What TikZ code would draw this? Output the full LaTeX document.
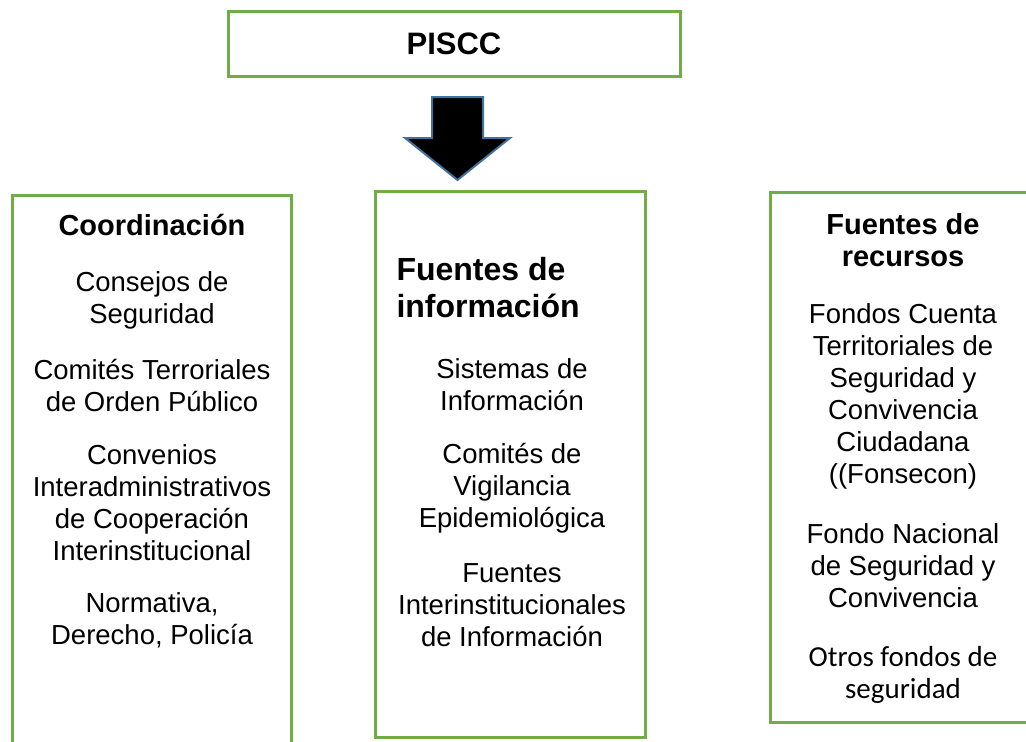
\documentclass[tikz,border=0pt]{standalone}
\usepackage{fontspec}
\setmainfont{Liberation Sans}
\newfontfamily\calibri{Carlito}
\usetikzlibrary{positioning}
\definecolor{boxgreen}{RGB}{112,173,71}
\definecolor{arrowblue}{RGB}{65,113,156}
\tikzset{
	panel/.style = {draw=boxgreen, line width=3pt, inner sep=0pt},
	head/.style = {font=\bfseries\fontsize{29}{32}\selectfont, align=center},
	bighead/.style = {font=\bfseries\fontsize{32}{37}\selectfont, align=left},
	item/.style = {font=\fontsize{27.5}{32}\selectfont, align=center}}

\begin{document}
\begin{tikzpicture}[x=1pt, y=-1pt]
\useasboundingbox (0,0) rectangle (1026,742);

% NODES
% top
\node (piscc) [panel, head, font=\bfseries\fontsize{31}{34}\selectfont,
	minimum width=452pt, minimum height=65pt] at (454,43.5) {PISCC};
% boxes
\node (left) [panel, minimum width=279pt, minimum height=565pt] at (151.5,477.5) {};
\node (mid) [panel, minimum width=270pt, minimum height=546pt] at (510,464) {};
\node (right) [panel, minimum width=270pt, minimum height=530pt] at (905,457) {};
% coordinacion
\node (coord) [head] at (152,225) {Coordinación};
\node (consejos) [item] at (152,300) {Consejos de\\Seguridad};
\node (comites) [item] at (152,386) {Comités Terroriales\\de Orden Público};
\node (convenios) [item] at (152,503) {Convenios\\Interadministrativos\\de Cooperación\\Interinstitucional};
\node (normativa) [item] at (152,620) {Normativa,\\Derecho, Policía};
% informacion
\node (finfo) [bighead, anchor=west] at (393,288) {Fuentes de\\información};
\node (sistemas) [item] at (512,385) {Sistemas de\\Información};
\node (vigilancia) [item] at (512,488) {Comités de\\Vigilancia\\Epidemiológica};
\node (fuentesint) [item] at (512,605) {Fuentes\\Interinstitucionales\\de Información};
% recursos
\node (frec) [head] at (903,240) {Fuentes de\\recursos};
\node (fondos) [item] at (903,396) {Fondos Cuenta\\Territoriales de\\Seguridad y\\Convivencia\\Ciudadana\\((Fonsecon)};
\node (nacional) [item] at (903,566) {Fondo Nacional\\de Seguridad y\\Convivencia};
\node (otros) [item, font=\calibri\fontsize{29}{32}\selectfont] at (903,675) {Otros fondos de\\seguridad};

% ARROW
\draw [arrowblue, fill=black, line width=2pt, line join=miter]
	(432,97) -- (483,97) -- (483,138) -- (510,138) -- (457.5,180)
	-- (405,138) -- (432,138) -- cycle;

\end{tikzpicture}
\end{document}
